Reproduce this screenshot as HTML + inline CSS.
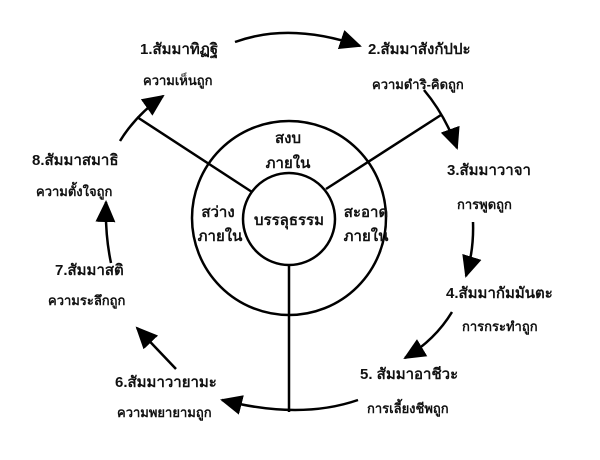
<!DOCTYPE html>
<html><head><meta charset="utf-8"><style>
html,body{margin:0;padding:0;background:#fff;}
svg{display:block;}
text{font-family:"Liberation Sans","Noto Sans CJK SC","WenQuanYi Zen Hei",sans-serif;fill:#111;font-size:15px;font-weight:bold;}
.s{font-size:13px;}
</style></head><body>
<svg width="600" height="460" viewBox="0 0 600 460" xmlns="http://www.w3.org/2000/svg">
<defs>
<marker id="a" markerWidth="22" markerHeight="20" refX="20" refY="10" orient="auto" markerUnits="userSpaceOnUse">
<polygon points="0,0 22,10 0,20" fill="#000"/>
</marker>
</defs>
<g fill="none" stroke="#000" stroke-width="2.5">
<circle cx="289" cy="218" r="97"/>
<circle cx="289" cy="219" r="46"/>
<line x1="252" y1="192" x2="137" y2="117"/>
<line x1="326" y1="189" x2="441" y2="115"/>
<line x1="289" y1="265" x2="289" y2="412"/>
<path d="M235,42 Q290,22 360,46" marker-end="url(#a)"/>
<path d="M424,90 Q445,115 457,148" marker-end="url(#a)"/>
<path d="M473,222 Q474,250 466,276" marker-end="url(#a)"/>
<path d="M452,312 Q435,340 405,358" marker-end="url(#a)"/>
<path d="M358,400 Q300,420 222,400" marker-end="url(#a)"/>
<path d="M176,369 Q158,350 137,328" marker-end="url(#a)"/>
<path d="M111,263 Q105,235 106,202" marker-end="url(#a)"/>
<path d="M120,141 Q136,115 163,96" marker-end="url(#a)"/>
</g>
<text x="140" y="54">1.สัมมาทิฏฐิ</text>
<text x="143" y="85" class="s">ความเห็นถูก</text>
<text x="368" y="54">2.สัมมาสังกัปปะ</text>
<text x="372" y="89" class="s">ความดำริ-คิดถูก</text>
<text x="447" y="175">3.สัมมาวาจา</text>
<text x="457" y="209" class="s">การพูดถูก</text>
<text x="446" y="298">4.สัมมากัมมันตะ</text>
<text x="462" y="331" class="s">การกระทำถูก</text>
<text x="360" y="379">5. สัมมาอาชีวะ</text>
<text x="367" y="413" class="s">การเลี้ยงชีพถูก</text>
<text x="115" y="387">6.สัมมาวายามะ</text>
<text x="117" y="417" class="s">ความพยายามถูก</text>
<text x="55" y="275">7.สัมมาสติ</text>
<text x="48" y="305" class="s">ความระลึกถูก</text>
<text x="32" y="165">8.สัมมาสมาธิ</text>
<text x="36" y="196" class="s">ความตั้งใจถูก</text>
<text x="288" y="143" text-anchor="middle">สงบ</text>
<text x="288" y="168" text-anchor="middle">ภายใน</text>
<text x="218" y="217" text-anchor="middle">สว่าง</text>
<text x="220" y="241" text-anchor="middle">ภายใน</text>
<text x="366" y="217" text-anchor="middle">สะอาด</text>
<text x="366" y="241" text-anchor="middle">ภายใน</text>
<text x="289" y="225" text-anchor="middle">บรรลุธรรม</text>
</svg>
</body></html>
